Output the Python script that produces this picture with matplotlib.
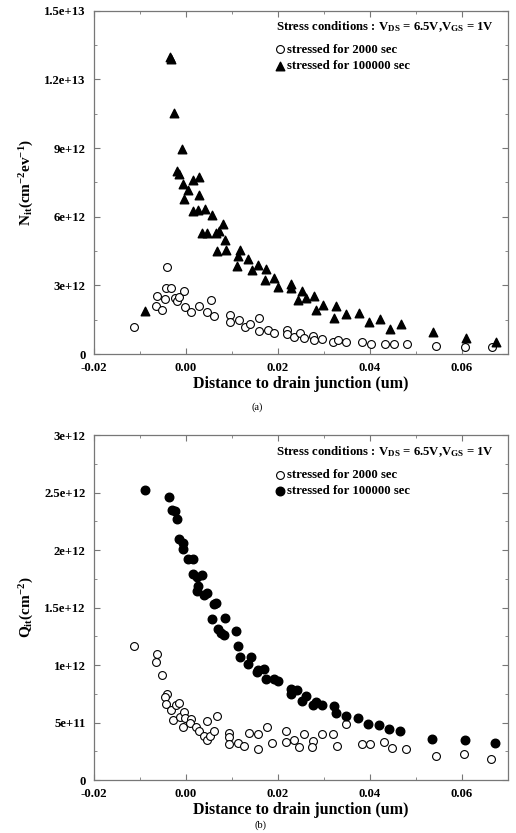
import matplotlib
matplotlib.use("Agg")
import matplotlib.pyplot as plt
from matplotlib.ticker import FixedLocator, FixedFormatter, MultipleLocator

# ---- data (a): interface trap density N_it vs distance ----
a_x_2000 = [-0.0112, -0.0041, -0.0062, -0.0064, -0.0051, -0.0045, -0.0043, -0.0032, -0.0024, -0.0020,
            -0.0015, -0.0004, -0.0002, 0.0012, 0.0029, 0.0045, 0.0054, 0.0062, 0.0097, 0.0096,
            0.0116, 0.0128, 0.0139, 0.0159, 0.0159, 0.0179, 0.0191, 0.0219, 0.0219, 0.0235,
            0.0248, 0.0257, 0.0277, 0.0278, 0.0296, 0.0320, 0.0331, 0.0349, 0.0383, 0.0402,
            0.0433, 0.0452, 0.0480, 0.0545, 0.0607, 0.0666]
a_y_2000 = [1.18e12, 3.80e12, 2.53e12, 2.08e12, 1.92e12, 2.39e12, 2.87e12, 2.90e12, 2.43e12, 2.33e12,
            2.48e12, 2.77e12, 2.04e12, 1.85e12, 2.10e12, 1.85e12, 2.36e12, 1.66e12, 1.70e12, 1.38e12,
            1.48e12, 1.17e12, 1.31e12, 1.59e12, 1.00e12, 1.07e12, 0.90e12, 1.07e12, 0.86e12, 0.76e12,
            0.90e12, 0.71e12, 0.80e12, 0.61e12, 0.66e12, 0.54e12, 0.61e12, 0.54e12, 0.51e12, 0.46e12,
            0.46e12, 0.42e12, 0.42e12, 0.36e12, 0.32e12, 0.32e12]

a_x_100000 = [-0.0089, -0.0035, -0.0032, -0.0026, -0.0009, -0.0020, -0.0015, -0.0006, 0.0005, -0.0004,
              0.0016, 0.0029, 0.0029, 0.0016, 0.0027, 0.0041, 0.0057, 0.0080, 0.0034, 0.0046,
              0.0065, 0.0072, 0.0085, 0.0067, 0.0087, 0.0117, 0.0114, 0.0136, 0.0112, 0.0156,
              0.0143, 0.0175, 0.0192, 0.0172, 0.0201, 0.0228, 0.0228, 0.0253, 0.0262, 0.0243,
              0.0278, 0.0298, 0.0283, 0.0326, 0.0322, 0.0348, 0.0376, 0.0398, 0.0422, 0.0443,
              0.0467, 0.0538, 0.0609, 0.0674]
a_y_100000 = [1.88e12, 13.0e12, 12.9e12, 10.54e12, 8.95e12, 7.99e12, 7.89e12, 7.41e12, 7.16e12, 6.77e12,
              7.60e12, 7.72e12, 6.97e12, 6.24e12, 6.29e12, 6.36e12, 6.07e12, 5.70e12, 5.30e12, 5.27e12,
              5.31e12, 5.39e12, 5.00e12, 4.50e12, 4.54e12, 4.54e12, 4.28e12, 4.16e12, 3.86e12, 3.89e12,
              3.67e12, 3.71e12, 3.34e12, 3.23e12, 2.94e12, 3.04e12, 2.87e12, 2.77e12, 2.47e12, 2.36e12,
              2.53e12, 2.14e12, 1.92e12, 2.10e12, 1.56e12, 1.75e12, 1.80e12, 1.38e12, 1.53e12, 1.09e12,
              1.31e12, 0.97e12, 0.71e12, 0.54e12]

# ---- data (b): interface charge Q_it vs distance ----
b_x_2000 = [-0.0113, -0.0062, -0.0064, -0.0051, -0.0041, -0.0046, -0.0043, -0.0033, -0.0028, -0.0022,
            -0.0015, -0.0012, -0.0004, -0.0001, -0.0006, 0.0012, 0.0009, 0.0021, 0.0028, 0.0039,
            0.0045, 0.0052, 0.0045, 0.0061, 0.0067, 0.0094, 0.0094, 0.0094, 0.0114, 0.0127,
            0.0137, 0.0157, 0.0157, 0.0177, 0.0188, 0.0217, 0.0217, 0.0235, 0.0246, 0.0257,
            0.0277, 0.0275, 0.0295, 0.0319, 0.0329, 0.0348, 0.0382, 0.0400, 0.0430, 0.0448,
            0.0478, 0.0543, 0.0605, 0.0664]
b_y_2000 = [1.17e12, 1.10e12, 1.03e12, 0.91e12, 0.75e12, 0.72e12, 0.66e12, 0.61e12, 0.52e12, 0.65e12,
            0.67e12, 0.55e12, 0.59e12, 0.54e12, 0.46e12, 0.53e12, 0.50e12, 0.46e12, 0.43e12, 0.38e12,
            0.35e12, 0.38e12, 0.51e12, 0.43e12, 0.56e12, 0.41e12, 0.37e12, 0.31e12, 0.32e12, 0.30e12,
            0.41e12, 0.40e12, 0.27e12, 0.46e12, 0.32e12, 0.43e12, 0.33e12, 0.35e12, 0.29e12, 0.40e12,
            0.34e12, 0.29e12, 0.40e12, 0.40e12, 0.30e12, 0.49e12, 0.31e12, 0.31e12, 0.33e12, 0.28e12,
            0.27e12, 0.21e12, 0.23e12, 0.18e12]

b_x_100000 = [-0.0089, -0.0036, -0.0031, -0.0024, -0.0020, -0.0016, -0.0006, -0.0007, 0.0005, 0.0016,
              0.0015, 0.0025, 0.0034, 0.0027, 0.0025, 0.0040, 0.0045, 0.0062, 0.0065, 0.0056,
              0.0086, 0.0069, 0.0076, 0.0083, 0.0110, 0.0114, 0.0117, 0.0141, 0.0135, 0.0156,
              0.0170, 0.0155, 0.0175, 0.0191, 0.0201, 0.0228, 0.0228, 0.0242, 0.0262, 0.0252,
              0.0283, 0.0277, 0.0297, 0.0322, 0.0326, 0.0348, 0.0375, 0.0396, 0.0420, 0.0442,
              0.0465, 0.0536, 0.0608, 0.0672]
b_y_100000 = [2.52e12, 2.46e12, 2.35e12, 2.34e12, 2.27e12, 2.10e12, 2.06e12, 2.01e12, 1.92e12, 1.92e12,
              1.79e12, 1.77e12, 1.78e12, 1.69e12, 1.64e12, 1.61e12, 1.63e12, 1.53e12, 1.54e12, 1.40e12,
              1.41e12, 1.31e12, 1.28e12, 1.26e12, 1.30e12, 1.17e12, 1.07e12, 1.07e12, 1.01e12, 0.96e12,
              0.97e12, 0.94e12, 0.88e12, 0.88e12, 0.86e12, 0.79e12, 0.75e12, 0.78e12, 0.73e12, 0.69e12,
              0.68e12, 0.65e12, 0.65e12, 0.64e12, 0.58e12, 0.56e12, 0.54e12, 0.49e12, 0.48e12, 0.44e12,
              0.43e12, 0.36e12, 0.35e12, 0.32e12]

x_ticks = [-0.02, 0.0, 0.02, 0.04, 0.06]
x_ticklabels = ["-0.02", "0.00", "0.02", "0.04", "0.06"]
a_y_ticks = [0, 3e12, 6e12, 9e12, 1.2e13, 1.5e13]
a_y_ticklabels = ["0", "3e+12", "6e+12", "9e+12", "1.2e+13", "1.5e+13"]
b_y_ticks = [0, 5e11, 1e12, 1.5e12, 2e12, 2.5e12, 3e12]
b_y_ticklabels = ["0", "5e+11", "1e+12", "1.5e+12", "2e+12", "2.5e+12", "3e+12"]

plt.rcParams["font.family"] = "Liberation Serif"
plt.rcParams["font.weight"] = "bold"
plt.rcParams["axes.labelweight"] = "bold"
plt.rcParams["mathtext.fontset"] = "custom"
plt.rcParams["mathtext.rm"] = "Liberation Serif:bold"
plt.rcParams["mathtext.it"] = "Liberation Serif:bold"
plt.rcParams["mathtext.bf"] = "Liberation Serif:bold"
plt.rcParams["mathtext.default"] = "rm"

fig = plt.figure(figsize=(5.16, 8.33), dpi=100)
ax1 = fig.add_axes([0.182, 0.575, 0.802, 0.412])
ax2 = fig.add_axes([0.182, 0.0636, 0.802, 0.414])

title = "Stress conditions : V$_{DS}$ = 6.5V,V$_{GS}$ = 1V"


def style(ax, yticks, ylabels, ymax, yminor):
    ax.set_xlim(-0.02, 0.07)
    ax.set_ylim(0, ymax)
    ax.xaxis.set_major_locator(FixedLocator(x_ticks))
    ax.xaxis.set_major_formatter(FixedFormatter(x_ticklabels))
    ax.xaxis.set_minor_locator(MultipleLocator(0.01))
    ax.yaxis.set_major_locator(FixedLocator(yticks))
    ax.yaxis.set_major_formatter(FixedFormatter(ylabels))
    ax.yaxis.set_minor_locator(MultipleLocator(yminor))
    ax.tick_params(which="both", direction="in", top=True, right=True,
                   color="#777777", labelsize=9.2)
    ax.tick_params(axis="y", pad=6)
    ax.tick_params(axis="x", pad=6)
    ax.tick_params(which="major", length=4)
    ax.tick_params(which="minor", length=2)
    for sp in ax.spines.values():
        sp.set_color("#777777")
        sp.set_linewidth(0.9)
    # the "0" sits a little high so it clears "-0.02"
    ax.get_yticklabels()[0].set_va("center_baseline")
    ax.set_xlabel("Distance to drain junction (um)", fontsize=11.5, labelpad=1)


def legend_block(ax, ytitle, ymid):
    ax.text(0.44, ytitle, title, transform=ax.transAxes, fontsize=9.2,
            fontweight="bold", ha="left", va="center")
    ax.legend(loc="center left", bbox_to_anchor=(0.44, ymid), frameon=False,
              fontsize=9.2, handletextpad=0.15, borderpad=0, borderaxespad=0,
              labelspacing=0.33, handlelength=0.7)


# (a)
ax1.scatter(a_x_2000, a_y_2000, s=32, facecolors="white", edgecolors="black",
            linewidths=0.8, label="stressed for 2000 sec", zorder=3)
ax1.scatter(a_x_100000, a_y_100000, s=38, marker="^", color="black",
            label="stressed for 100000 sec", zorder=3)
style(ax1, a_y_ticks, a_y_ticklabels, 1.5e13, 1.5e12)
ax1.set_ylabel("N$_{it}$(cm$^{-2}$ev$^{-1}$)", fontsize=11, labelpad=6)
legend_block(ax1, 0.953, 0.863)
fig.text(0.498, 0.511, "(a)", fontsize=7.5, fontweight="normal", ha="center", va="center")

# (b)
ax2.scatter(b_x_2000, b_y_2000, s=32, facecolors="white", edgecolors="black",
            linewidths=0.8, label="stressed for 2000 sec", zorder=3)
ax2.scatter(b_x_100000, b_y_100000, s=38, color="black",
            label="stressed for 100000 sec", zorder=3)
style(ax2, b_y_ticks, b_y_ticklabels, 3e12, 2.5e11)
ax2.set_ylabel("Q$_{it}$(cm$^{-2}$)", fontsize=11, labelpad=6)
legend_block(ax2, 0.951, 0.861)
fig.text(0.504, 0.004, "(b)", fontsize=7.5, fontweight="normal", ha="center", va="bottom")

fig.savefig("out.png", dpi=100)
